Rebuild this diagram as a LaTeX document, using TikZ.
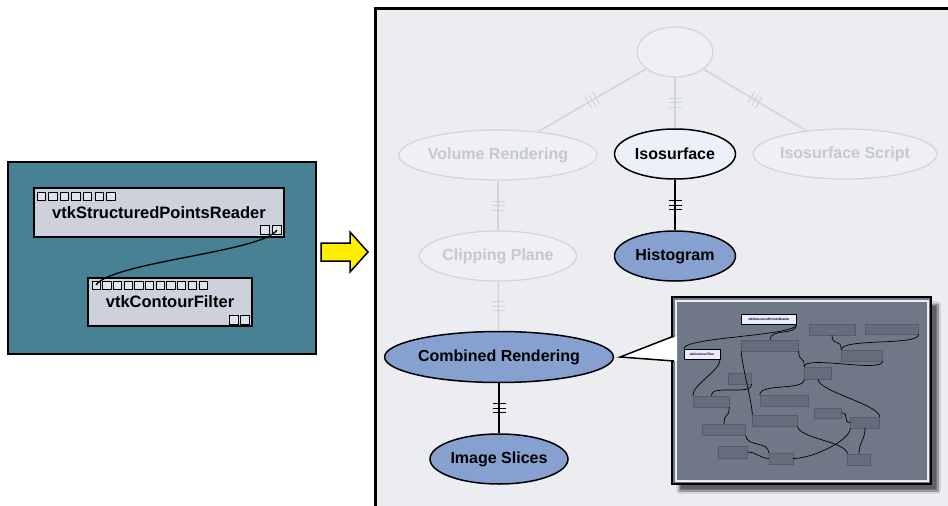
\documentclass[tikz,border=0pt]{standalone}
\usepackage{fontspec}
\setmainfont{Liberation Sans}
\usetikzlibrary{shapes.geometric, decorations.markings, shadows.blur}
\definecolor{panelteal}{RGB}{72,128,148}
\definecolor{boxgray}{RGB}{204,209,220}
\definecolor{panelback}{RGB}{236,237,241}
\definecolor{fadefill}{RGB}{239,240,244}
\definecolor{fadeline}{RGB}{210,212,220}
\definecolor{fadetext}{RGB}{198,200,209}
\definecolor{isofill}{RGB}{236,240,248}
\definecolor{nodeblue}{RGB}{134,160,207}
\definecolor{insetgray}{RGB}{110,120,134}
\definecolor{thumbgray}{RGB}{99,109,123}
\definecolor{arrowyellow}{RGB}{255,238,0}

\begin{document}
\begin{tikzpicture}[
        x=1pt, y=-1pt,
        module/.style={rectangle, draw, line width=1.2pt, fill=boxgray, inner sep=0pt, font=\bfseries\fontsize{16.5}{18}\selectfont},
        port/.style={draw, line width=0.9pt, fill=boxgray!60!white},
        wire/.style={draw, line width=1.3pt},
        faded/.style={ellipse, draw=fadeline, line width=1.2pt, fill=fadefill, inner sep=0pt, text=fadetext, font=\bfseries\fontsize{16}{18}\selectfont},
        active/.style={ellipse, draw, line width=1.5pt, fill=isofill, inner sep=0pt, font=\bfseries\fontsize{16}{18}\selectfont},
        chosen/.style={active, fill=nodeblue},
        fadeedge/.style={draw=fadeline, line width=1.5pt},
        edge/.style={draw, line width=1.5pt},
        triple/.style={postaction={decorate, decoration={markings, mark=at position 0.5 with {
            \draw[#1, line width=1pt] (-4.5pt,-6.5pt) -- (-4.5pt,6.5pt) (0pt,-6.5pt) -- (0pt,6.5pt) (4.5pt,-6.5pt) -- (4.5pt,6.5pt);}}}},
        thumb/.style={rectangle, draw=thumbgray!85!black, line width=0.4pt, fill=thumbgray, inner sep=0pt},
        thumbhi/.style={thumb, draw=black, fill=white!92!blue, font=\bfseries\fontsize{3.2}{4}\selectfont},
        tiewire/.style={draw, line width=0.7pt}
        ]

        \useasboundingbox[fill=white] (0,0) rectangle (948,506);

        % Left panel: the network
        \fill[panelteal] (8,162) rectangle (316,354);
        \draw[line width=2pt] (8,162) rectangle (316,354);

        \node (reader) [module, minimum width=250pt, minimum height=49pt] at (159,212.5) {\raisebox{-2.5pt}{vtkStructuredPointsReader}};
        \node (filter) [module, minimum width=164pt, minimum height=48pt] at (170,302) {\raisebox{-3pt}{vtkContourFilter}};

        \foreach \i in {0,...,6}
            \draw[port] (37+\i*11.6,192) rectangle +(8.5,8.5);
        \draw[port] (260,225) rectangle +(9,9);
        \draw[port] (272,225) rectangle +(9,9);
        \foreach \i in {0,...,10}
            \draw[port] (92+\i*10.7,281) rectangle +(8.3,8.3);
        \draw[port] (229,315) rectangle +(9,9);
        \draw[port] (240,315) rectangle +(9,9);

        \coordinate (readerout) at (277,230);
        \coordinate (filterin) at (96,285);
        \draw[wire] (readerout) .. controls (262,252) and (112,262) .. (filterin);

        % Yellow arrow
        \draw[line width=1.5pt, fill=arrowyellow, line join=miter]
            (321,243) -- (350,243) -- (350,232) -- (368,252) -- (350,272) -- (350,261) -- (321,261) -- cycle;

        % Right panel: the history tree
        \fill[panelback] (375,8) rectangle (952,510);
        \draw[line width=3pt] (952,8) -- (375,8) -- (375,510);

        \node (root) [faded, minimum width=76pt, minimum height=50pt] at (675,52) {};
        \node (volume) [faded, minimum width=178pt, minimum height=50pt] at (498,155) {Volume Rendering};
        \node (iso) [active, minimum width=121pt, minimum height=50pt] at (675,154) {Isosurface};
        \node (isoscript) [faded, minimum width=169pt, minimum height=50pt] at (845,154) {Isosurface Script};
        \node (clip) [faded, minimum width=152pt, minimum height=50pt] at (498,256) {Clipping Plane};
        \node (histo) [chosen, minimum width=121pt, minimum height=50pt] at (675,256) {Histogram};
        \node (combined) [chosen, minimum width=204pt, minimum height=51pt] at (499,357) {Combined Rendering};
        \node (slices) [chosen, minimum width=138pt, minimum height=50pt] at (499,459) {Image Slices};

        \draw[fadeedge, triple=fadeline] (root) -- (volume);
        \draw[fadeedge, triple=fadeline] (root) -- (iso);
        \draw[fadeedge, triple=fadeline] (root) -- (isoscript);
        \draw[fadeedge, triple=fadeline] (volume) -- (clip);
        \draw[fadeedge, triple=fadeline] (clip) -- (combined);
        \draw[edge, triple=black] (iso) -- (histo);
        \draw[edge, triple=black] (combined) -- (slices);

        % Inset: network of the combined rendering
        \fill[insetgray, blur shadow={shadow xshift=7pt, shadow yshift=-7pt, shadow blur steps=12, shadow opacity=60}] (672,297) rectangle (931,484);
        \draw[white!85!gray, line width=2pt] (675.5,300.5) rectangle (927.5,480.5);
        \draw[line width=2.5pt] (672,297) rectangle (931,484);

        \fill[white] ([xshift=6pt]combined.east) -- (677,336) -- (677,361) -- cycle;
        \draw[line width=1.5pt, line join=miter] (674,336) -- ([xshift=6pt]combined.east) -- (674,361);

        \node (m1) [thumbhi, minimum width=55pt, minimum height=10pt] at (769,319) {vtkStructuredPointsReader};
        \node (m2) [thumbhi, minimum width=36pt, minimum height=10pt] at (702,354) {vtkContourFilter};
        \node (m3) [thumb, minimum width=57pt, minimum height=11pt] at (770,345.5) {};
        \node (m4) [thumb, minimum width=46pt, minimum height=11pt] at (832,329.5) {};
        \node (m5) [thumb, minimum width=53pt, minimum height=10pt] at (892,329) {};
        \node (m6) [thumb, minimum width=41pt, minimum height=11pt] at (862,355.5) {};
        \node (m7) [thumb, minimum width=27pt, minimum height=12pt] at (818,373) {};
        \node (m8) [thumb, minimum width=23pt, minimum height=11pt] at (740,378.5) {};
        \node (m9) [thumb, minimum width=36pt, minimum height=11pt] at (711,401.5) {};
        \node (m10) [thumb, minimum width=48pt, minimum height=11pt] at (784,400.5) {};
        \node (m11) [thumb, minimum width=27pt, minimum height=10pt] at (828,413) {};
        \node (m12) [thumb, minimum width=45pt, minimum height=11pt] at (775,420.5) {};
        \node (m13) [thumb, minimum width=29pt, minimum height=11pt] at (865,422.5) {};
        \node (m14) [thumb, minimum width=43pt, minimum height=11pt] at (724,429.5) {};
        \node (m15) [thumb, minimum width=29pt, minimum height=12pt] at (733,452) {};
        \node (m16) [thumb, minimum width=24pt, minimum height=11pt] at (781,458.5) {};
        \node (m17) [thumb, minimum width=23pt, minimum height=11pt] at (859,459.5) {};

        \foreach \a/\b in {m1.south east/m2.north west, m1.south east/m3.north, m2.south east/m9.north west,
                           m3.south west/m12.north west, m3.south east/m7.north west, m4.south/m6.north west,
                           m5.south east/m6.north west, m6.south east/m7.north west, m8.south east/m9.north,
                           m7.south/m13.north east, m7.south west/m10.north west, m9.south east/m14.north,
                           m14.south east/m16.north west, m12.south east/m17.north west, m13.south/m17.north}
            \draw[tiewire] (\a) .. controls +(0,12) and +(0,-12) .. (\b);
        \draw[tiewire] (m11.east) .. controls +(8,0) and +(-8,0) .. (m13.west);
        \draw[tiewire] (m15.east) .. controls +(8,0) and +(-8,0) .. (m16.west);
        \draw[tiewire] (m16.east) .. controls +(20,0) and +(0,12) .. (m13.south west);

    \end{tikzpicture}
\end{document}
